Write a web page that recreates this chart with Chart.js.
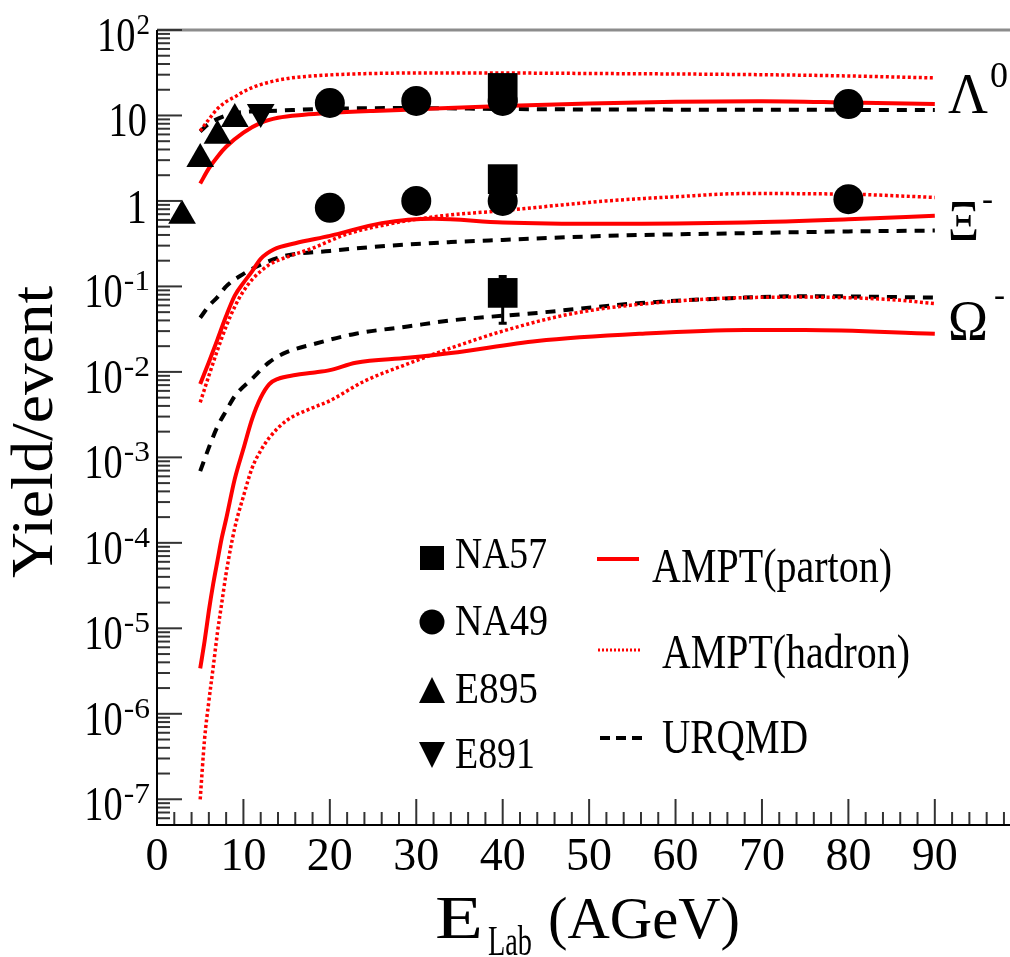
<!DOCTYPE html>
<html>
<head>
<meta charset="utf-8">
<script src="https://cdn.jsdelivr.net/npm/chart.js@4.4.1/dist/chart.umd.min.js"></script>
<style>
  html, body { margin: 0; padding: 0; background: #fff; overflow: hidden; }
  #wrap { width: 1010px; height: 957px; }
  canvas { display: block; }
</style>
</head>
<body>
<div id="wrap"><canvas id="chart" width="1010" height="957"></canvas></div>
<script>
// ── Axis ranges / ticks ───────────────────────────────────────
const X_MIN = 0, X_MAX = 98.7;
const Y_MIN = 5e-8, Y_MAX = 100;
const X_TICKS = [0, 10, 20, 30, 40, 50, 60, 70, 80, 90];
const X_MINOR_STEP = 2;
const Y_DECADES = [-7, -6, -5, -4, -3, -2, -1, 0, 1, 2];

// ── Model curves (E_lab in AGeV, yield/event) ─────────────────
// Lambda
const LAM_PARTON_X = [5, 6, 7, 8, 10, 12, 14, 17, 20, 25, 30, 40, 50, 60, 70, 80, 90];
const LAM_PARTON_Y = [1.6, 2.4, 3.3, 4.3, 6.3, 8.2, 9.4, 10.2, 10.7, 11.3, 11.8, 12.9, 13.8, 14.5, 14.7, 14.2, 13.6];
const LAM_HADRON_X = [5, 6, 7, 8, 9, 10, 12, 15, 18, 25, 35, 50, 70, 80, 90];
const LAM_HADRON_Y = [6.6, 9, 12, 14.5, 16.5, 19, 23, 27, 29, 31, 31.5, 31, 30, 29, 27.5];
const LAM_URQMD_X = [5, 6, 8, 10, 13, 20, 30, 40, 60, 90];
const LAM_URQMD_Y = [6.5, 8, 10, 11, 11.3, 12.0, 12.2, 11.9, 11.7, 11.6];
// Xi
const XI_PARTON_X = [5, 6, 7, 8, 9, 10, 11, 12, 13.5, 16, 20, 26, 32, 40, 52, 68, 80, 90];
const XI_PARTON_Y = [0.0072, 0.013, 0.024, 0.045, 0.078, 0.11, 0.15, 0.21, 0.27, 0.32, 0.39, 0.55, 0.62, 0.56, 0.54, 0.56, 0.61, 0.67];
const XI_HADRON_X = [5, 6, 7, 8, 9, 10, 11, 13, 15, 18, 22, 27, 33, 40, 52, 60, 68, 80, 90];
const XI_HADRON_Y = [0.0044, 0.009, 0.018, 0.034, 0.058, 0.088, 0.12, 0.18, 0.22, 0.28, 0.41, 0.54, 0.67, 0.77, 1.0, 1.12, 1.22, 1.2, 1.1];
const XI_URQMD_X = [5, 6, 7, 8, 10, 12, 15, 20, 25, 34, 40, 52, 68, 80, 90];
const XI_URQMD_Y = [0.043, 0.059, 0.075, 0.1, 0.14, 0.18, 0.23, 0.26, 0.29, 0.33, 0.35, 0.39, 0.42, 0.44, 0.45];
// Omega
const OM_PARTON_X = [5, 5.5, 6, 6.5, 7, 7.5, 8, 9, 10, 11, 12, 13, 14, 16, 18, 20, 23, 29, 34, 44, 56, 68, 75, 90];
const OM_PARTON_Y = [3.4e-6, 7e-6, 1.6e-5, 3.3e-5, 6.2e-5, 1.15e-4, 1.9e-4, 5.6e-4, 1.26e-3, 2.8e-3, 5e-3, 7.2e-3, 8.3e-3, 9.2e-3, 9.8e-3, 0.0105, 0.0128, 0.0146, 0.0166, 0.023, 0.028, 0.031, 0.031, 0.028];
const OM_HADRON_X = [5, 5.5, 6, 6.5, 7, 7.5, 8, 9, 10, 11, 12, 13, 15, 18, 20, 24, 29, 34, 40, 48, 56, 68, 75, 85, 90];
const OM_HADRON_Y = [1e-7, 5e-7, 1.4e-6, 3.5e-6, 9e-6, 2e-5, 4.4e-5, 1.5e-4, 3.5e-4, 7.5e-4, 1.2e-3, 1.7e-3, 2.7e-3, 3.8e-3, 4.6e-3, 7.8e-3, 0.0124, 0.019, 0.03, 0.048, 0.062, 0.074, 0.075, 0.07, 0.063];
const OM_URQMD_X = [5, 6, 7, 8, 9, 11, 13, 15, 18, 23, 29, 34, 44, 56, 68, 75, 90];
const OM_URQMD_Y = [6.9e-4, 1.3e-3, 2.3e-3, 3.5e-3, 5.2e-3, 8.3e-3, 0.013, 0.017, 0.021, 0.028, 0.034, 0.04, 0.049, 0.064, 0.074, 0.077, 0.074];

// ── Data points ───────────────────────────────────────────────
const NA57_X = [40, 40, 40];
const NA57_Y = [21, 1.8, 0.084];
const NA57_ERR = [0, 0, 0.047];
const NA49_X = [20, 30, 40, 80, 20, 30, 40, 80];
const NA49_Y = [14, 14.8, 14.8, 13.6, 0.83, 1.0, 1.0, 1.05];
const E895_X = [2.9, 5.0, 7.0, 9.0];
const E895_Y = [0.67, 3.1, 5.8, 9.1];
const E891_X = [12];
const E891_Y = [11];

const SERIF = '"Liberation Serif", "Times New Roman", serif';
const RED = '#ff0000';

function pts(xs, ys) {
  return xs.map(function (x, i) { return { x: x, y: ys[i] }; });
}

function curve(label, xs, ys, kind) {
  const ds = {
    type: 'line',
    label: label,
    data: pts(xs, ys),
    pointRadius: 0,
    fill: false,
    tension: 0.4,
    cubicInterpolationMode: 'monotone',
    order: 2,
  };
  if (kind === 'parton') { ds.borderColor = RED; ds.borderWidth = 4; }
  if (kind === 'hadron') { ds.borderColor = RED; ds.borderWidth = 3.5; ds.borderDash = [3, 2.5]; }
  if (kind === 'urqmd')  { ds.borderColor = '#000'; ds.borderWidth = 4; ds.borderDash = [10, 8]; }
  return ds;
}

function markers(label, xs, ys, style, radius, rotation) {
  return {
    type: 'scatter',
    label: label,
    data: pts(xs, ys),
    pointStyle: style,
    pointRadius: radius,
    pointRotation: rotation || 0,
    backgroundColor: '#000',
    borderWidth: 0,
    order: 0,
  };
}

// text helper: opts {align, w (fit width), sx (horizontal scale)}
function txt(ctx, s, x, y, size, opts) {
  opts = opts || {};
  ctx.font = size + 'px ' + SERIF;
  const nw = ctx.measureText(s).width;
  const sx = opts.w ? opts.w / nw : (opts.sx || 1);
  ctx.save();
  ctx.translate(x, y);
  ctx.scale(sx, 1);
  ctx.textAlign = opts.align || 'left';
  ctx.textBaseline = 'alphabetic';
  ctx.fillStyle = '#000';
  ctx.fillText(s, 0, 0);
  ctx.restore();
  return nw * sx;
}

function shape(ctx, kind, cx, cy, r) {
  ctx.beginPath();
  if (kind === 'square') {
    ctx.rect(cx - r, cy - r, 2 * r, 2 * r);
  } else if (kind === 'circle') {
    ctx.arc(cx, cy, r, 0, Math.PI * 2);
  } else if (kind === 'up') {
    ctx.moveTo(cx, cy - r); ctx.lineTo(cx + r, cy + r); ctx.lineTo(cx - r, cy + r);
  } else if (kind === 'down') {
    ctx.moveTo(cx, cy + r); ctx.lineTo(cx + r, cy - r); ctx.lineTo(cx - r, cy - r);
  }
  ctx.closePath();
  ctx.fillStyle = '#000';
  ctx.fill();
}

// ── Frame, ticks, labels, legend ──────────────────────────────
const decorPlugin = {
  id: 'decor',
  beforeDatasetsDraw: function (chart) {
    const ctx = chart.ctx, xs = chart.scales.x, ys = chart.scales.y;
    // NA57 error bars
    ctx.save();
    ctx.strokeStyle = '#000';
    ctx.lineWidth = 3;
    NA57_X.forEach(function (x, i) {
      if (!NA57_ERR[i]) return;
      const px = xs.getPixelForValue(x);
      const y1 = ys.getPixelForValue(NA57_Y[i] + NA57_ERR[i]);
      const y2 = ys.getPixelForValue(NA57_Y[i] - NA57_ERR[i]);
      ctx.beginPath(); ctx.moveTo(px, y1); ctx.lineTo(px, y2); ctx.stroke();
      ctx.beginPath(); ctx.moveTo(px - 4, y1); ctx.lineTo(px + 4, y1);
      ctx.moveTo(px - 4, y2); ctx.lineTo(px + 4, y2); ctx.stroke();
    });
    ctx.restore();
  },
  afterDraw: function (chart) {
    const ctx = chart.ctx, a = chart.chartArea;
    const xs = chart.scales.x, ys = chart.scales.y;
    ctx.save();

    // top line (grey)
    ctx.strokeStyle = '#8c8c8c';
    ctx.lineWidth = 3;
    ctx.beginPath(); ctx.moveTo(a.left, a.top); ctx.lineTo(a.right, a.top); ctx.stroke();

    // y ticks (inward)
    ctx.strokeStyle = '#333';
    ctx.lineWidth = 2;
    Y_DECADES.forEach(function (d) {
      const py = ys.getPixelForValue(Math.pow(10, d));
      ctx.beginPath(); ctx.moveTo(a.left, py); ctx.lineTo(a.left + 25, py); ctx.stroke();
      if (d < 2) {
        for (let m = 2; m <= 9; m++) {
          const my = ys.getPixelForValue(m * Math.pow(10, d));
          ctx.beginPath(); ctx.moveTo(a.left, my); ctx.lineTo(a.left + 13, my); ctx.stroke();
        }
      }
    });
    // minor ticks below 1e-7
    for (let m = 5; m <= 9; m++) {
      const my = ys.getPixelForValue(m * 1e-8);
      if (my <= a.bottom) {
        ctx.beginPath(); ctx.moveTo(a.left, my); ctx.lineTo(a.left + 13, my); ctx.stroke();
      }
    }

    // x ticks (inward)
    for (let v = X_MINOR_STEP; v < X_MAX; v += X_MINOR_STEP) {
      const px = xs.getPixelForValue(v);
      const len = (v % 10 === 0) ? 26 : 13;
      ctx.beginPath(); ctx.moveTo(px, a.bottom); ctx.lineTo(px, a.bottom - len); ctx.stroke();
    }

    // axis lines
    ctx.strokeStyle = '#000';
    ctx.lineWidth = 2;
    ctx.beginPath();
    ctx.moveTo(a.left, a.top); ctx.lineTo(a.left, a.bottom); ctx.lineTo(a.right, a.bottom);
    ctx.stroke();

    // y tick labels
    Y_DECADES.forEach(function (d) {
      const py = ys.getPixelForValue(Math.pow(10, d));
      if (d === 0) {
        txt(ctx, '1', 147, py + 22, 48, { align: 'right', sx: 0.85 });
      } else if (d === 1) {
        txt(ctx, '10', 147, py + 21, 48, { align: 'right', sx: 0.8 });
      } else {
        const sw = txt(ctx, String(d), 150, py + 4, 30, { align: 'right', sx: d < 0 ? 1.05 : 0.9 });
        txt(ctx, '10', 150 - sw - 1, py + 21, 48, { align: 'right', sx: 0.8 });
      }
    });

    // x tick labels
    X_TICKS.forEach(function (v) {
      txt(ctx, String(v), xs.getPixelForValue(v), 870, 46, { align: 'center' });
    });

    // axis titles
    txt(ctx, 'E', 435, 938, 62, { w: 48 });
    txt(ctx, 'Lab', 488, 955, 42, { w: 44 });
    txt(ctx, '(AGeV)', 548, 938, 60, { w: 192 });

    ctx.save();
    ctx.translate(52, 432);
    ctx.rotate(-Math.PI / 2);
    txt(ctx, 'Yield/event', 0, 0, 60, { align: 'center', w: 292 });
    ctx.restore();

    // species labels
    txt(ctx, 'Λ', 948, 113, 56, { w: 40 });
    txt(ctx, '0', 990, 87, 36, { w: 18 });
    txt(ctx, 'Ξ', 948, 240, 56, { w: 31 });
    txt(ctx, '-', 982, 210, 34, { w: 11 });
    txt(ctx, 'Ω', 948, 340, 56, { w: 40 });
    txt(ctx, '-', 994, 306, 34, { w: 11 });

    // legend: data sets
    shape(ctx, 'square', 432, 558, 12);
    txt(ctx, 'NA57', 455, 568, 44, { w: 92 });
    shape(ctx, 'circle', 432, 622, 12.5);
    txt(ctx, 'NA49', 455, 635, 44, { w: 93 });
    shape(ctx, 'up', 432, 690, 13);
    txt(ctx, 'E895', 455, 703, 44, { w: 83 });
    shape(ctx, 'down', 432, 755, 13);
    txt(ctx, 'E891', 455, 768, 44, { w: 80 });

    // legend: models
    ctx.lineWidth = 4; ctx.strokeStyle = RED; ctx.setLineDash([]);
    ctx.beginPath(); ctx.moveTo(597, 559); ctx.lineTo(639, 559); ctx.stroke();
    ctx.lineWidth = 3; ctx.setLineDash([2, 2]);
    ctx.beginPath(); ctx.moveTo(598, 650); ctx.lineTo(640, 650); ctx.stroke();
    ctx.lineWidth = 4; ctx.strokeStyle = '#000'; ctx.setLineDash([10, 6]);
    ctx.beginPath(); ctx.moveTo(600, 738); ctx.lineTo(642, 738); ctx.stroke();
    ctx.setLineDash([]);
    txt(ctx, 'AMPT(parton)', 652, 582, 48, { w: 240 });
    txt(ctx, 'AMPT(hadron)', 662, 668, 48, { w: 248 });
    txt(ctx, 'URQMD', 662, 753, 48, { w: 146 });

    ctx.restore();
  }
};

new Chart(document.getElementById('chart'), {
  data: {
    datasets: [
      markers('NA57', NA57_X, NA57_Y, 'rect', 21),
      markers('NA49', NA49_X, NA49_Y, 'circle', 15),
      markers('E895', E895_X, E895_Y, 'triangle', 16),
      markers('E891', E891_X, E891_Y, 'triangle', 16, 180),
      curve('AMPT(parton) Λ', LAM_PARTON_X, LAM_PARTON_Y, 'parton'),
      curve('AMPT(hadron) Λ', LAM_HADRON_X, LAM_HADRON_Y, 'hadron'),
      curve('URQMD Λ', LAM_URQMD_X, LAM_URQMD_Y, 'urqmd'),
      curve('AMPT(parton) Ξ', XI_PARTON_X, XI_PARTON_Y, 'parton'),
      curve('AMPT(hadron) Ξ', XI_HADRON_X, XI_HADRON_Y, 'hadron'),
      curve('URQMD Ξ', XI_URQMD_X, XI_URQMD_Y, 'urqmd'),
      curve('AMPT(parton) Ω', OM_PARTON_X, OM_PARTON_Y, 'parton'),
      curve('AMPT(hadron) Ω', OM_HADRON_X, OM_HADRON_Y, 'hadron'),
      curve('URQMD Ω', OM_URQMD_X, OM_URQMD_Y, 'urqmd'),
    ]
  },
  options: {
    responsive: false,
    animation: false,
    layout: { autoPadding: false, padding: { left: 157, right: 0, top: 30, bottom: 132 } },
    scales: {
      x: { type: 'linear', min: X_MIN, max: X_MAX, display: false },
      y: { type: 'logarithmic', min: Y_MIN, max: Y_MAX, display: false }
    },
    plugins: {
      legend: { display: false },
      tooltip: { enabled: false }
    }
  },
  plugins: [decorPlugin]
});
</script>
</body>
</html>
